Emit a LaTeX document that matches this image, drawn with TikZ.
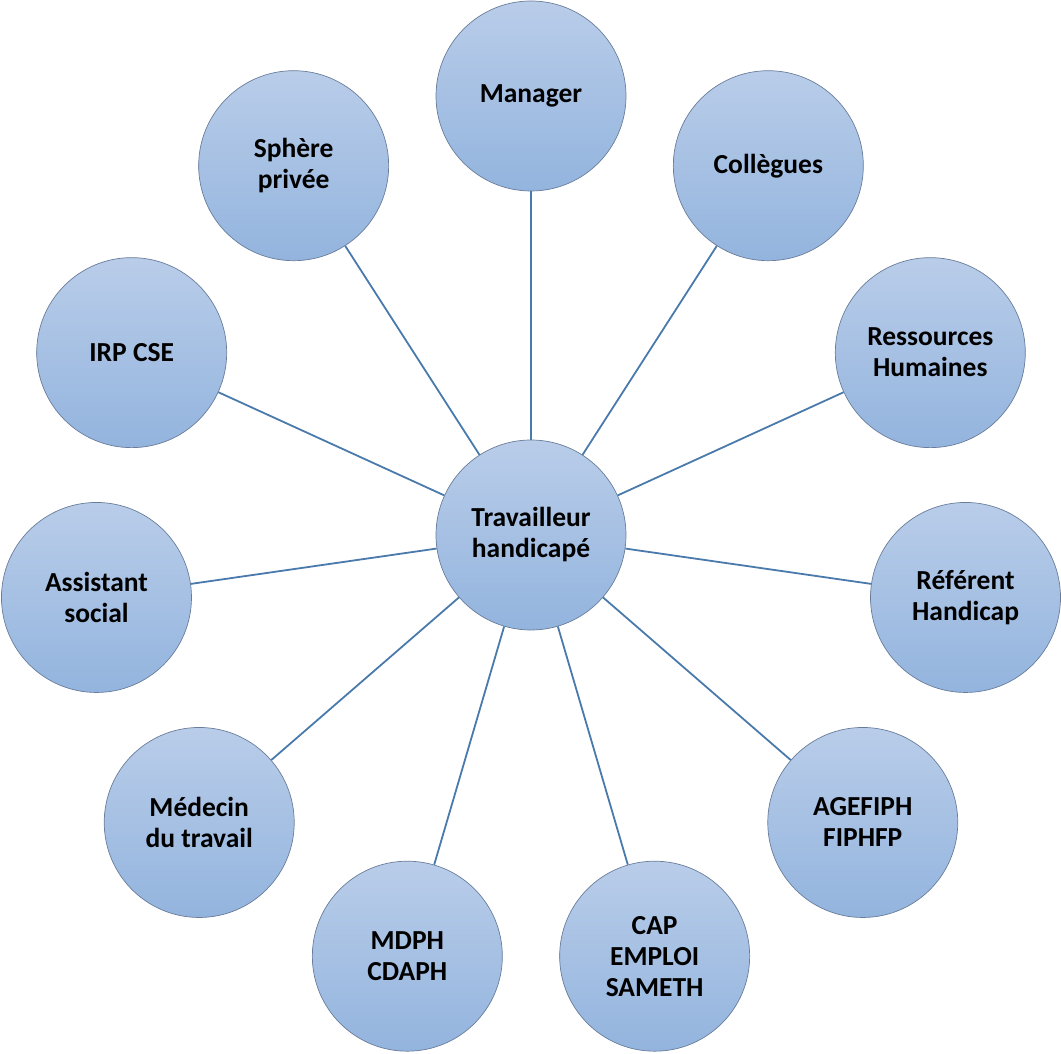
\documentclass[tikz,border=0pt]{standalone}
\usepackage{fontspec}
\setmainfont{Carlito}

\definecolor{haut}{RGB}{185,205,233}
\definecolor{bas}{RGB}{147,180,222}
\definecolor{bordure}{RGB}{105,125,155}
\definecolor{trait}{RGB}{74,122,172}

\begin{document}
\begin{tikzpicture}[x = 1pt, y = 1pt,
	bulle/.style = {circle, minimum size = 190pt, inner sep = 0pt, draw = bordure, line width = 0.7pt,
		top color = haut, bottom color = bas, align = center,
		font = \bfseries\fontsize{27.5}{31}\selectfont},
	lien/.style = {draw = trait, line width = 1.8pt}]

	% Definitions

	\def\R{439}		% Distance from the centre to each partner
	\def\N{11}		% Number of partners

	\useasboundingbox (0, 0) rectangle (1061, 1053);

	% Worker in the centre

	\node [bulle] (centre) at (531, 518) {Travailleur\\handicapé};

	% Partners around, clockwise from the top

	\begin{scope}[shift = {(531, 518)}]
		\foreach \nom [count = \k from 0] in {Manager, Collègues, {Ressources\\Humaines}, {Référent\\Handicap},
			{AGEFIPH\\FIPHFP}, {CAP\\EMPLOI\\SAMETH}, {MDPH\\CDAPH}, {Médecin\\du travail},
			{Assistant\\social}, {IRP CSE}, {Sphère\\privée}}
			\node [bulle] (p\k) at ({90 - \k * 360 / \N}:\R) {\nom};
	\end{scope}

	% Links

	\foreach \k in {0, 1, ..., 10}
		\draw [lien] (centre) -- (p\k);

\end{tikzpicture}
\end{document}
